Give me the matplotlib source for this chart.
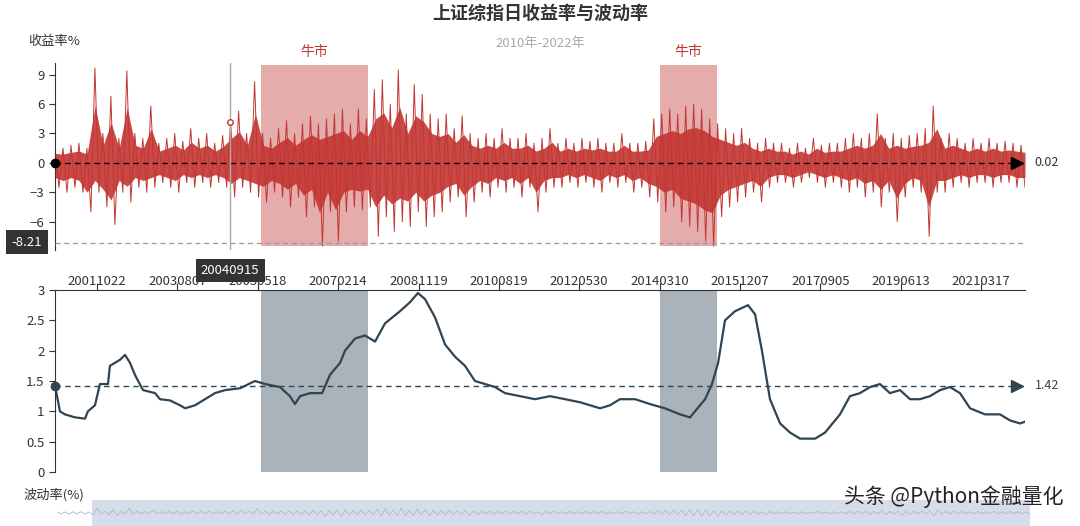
import numpy as np
import matplotlib
matplotlib.use("Agg")
import matplotlib.pyplot as plt
from matplotlib.patches import Rectangle

plt.rcParams['font.family'] = ['Noto Sans CJK SC', 'DejaVu Sans']

N_DAYS = 5070
tick_labels = ["20011022", "20030807", "20050518", "20070214", "20081119", "20100819",
               "20120530", "20140310", "20151207", "20170905", "20190613", "20210317"]
tick_days = [220 + 420 * k for k in range(len(tick_labels))]

bull_ranges = [(1077, 1636), (3162, 3460)]

ret_hi = [1.6,1.5,1.8,2.0,1.5,9.7,3.0,6.8,2.5,9.4,3.0,2.5,5.8,2.0,2.5,3.0,2.2,3.5,2.5,3.0,2.0,2.8,4.2,5.3,3.0,8.3,3.0,2.5,3.5,4.3,3.0,4.0,4.8,4.0,4.5,5.0,5.5,4.0,5.5,4.5,7.5,8.5,6.0,9.5,5.0,8.0,7.0,5.0,4.5,5.0,3.5,4.8,3.0,2.5,3.0,2.5,3.5,2.5,2.5,3.0,2.0,2.5,3.5,2.0,2.5,2.0,2.5,2.2,2.5,2.0,2.0,3.0,2.0,2.0,2.2,4.5,5.0,5.5,5.0,5.8,6.0,5.5,4.5,4.0,3.5,3.0,3.5,2.5,2.0,2.5,2.0,2.0,1.5,2.0,1.5,2.5,1.8,2.0,2.0,2.5,3.0,2.5,3.0,5.0,2.5,3.0,2.5,2.8,3.0,3.5,5.8,2.5,3.0,2.5,2.0,2.5,2.0,2.5,2.0,2.2,2.0,1.8]
ret_lo = [-2.5,-3.0,-2.5,-3.0,-5.0,-3.0,-4.5,-6.3,-3.0,-4.0,-2.5,-3.0,-2.5,-2.0,-2.5,-3.0,-2.0,-2.5,-2.0,-2.5,-2.0,-2.5,-3.5,-2.5,-3.0,-3.5,-4.0,-3.0,-3.5,-4.5,-3.5,-5.5,-4.5,-8.5,-5.0,-8.0,-5.0,-4.5,-4.8,-4.5,-7.5,-5.5,-7.0,-6.0,-6.5,-5.0,-6.5,-5.5,-5.0,-4.0,-3.5,-5.5,-4.0,-3.0,-3.5,-2.5,-3.0,-2.5,-3.5,-2.5,-5.0,-3.0,-2.5,-2.5,-2.0,-2.5,-2.0,-2.5,-3.0,-2.0,-2.5,-2.0,-3.0,-2.5,-3.5,-4.0,-5.0,-4.5,-6.0,-6.5,-7.0,-8.0,-8.5,-5.5,-4.5,-4.0,-3.5,-3.0,-4.0,-2.5,-2.0,-2.0,-2.5,-2.0,-1.5,-2.0,-2.5,-2.0,-2.5,-3.0,-2.5,-3.5,-3.0,-4.5,-3.0,-6.0,-3.5,-2.5,-3.0,-7.5,-3.0,-3.0,-2.5,-2.0,-2.5,-2.0,-2.0,-2.5,-2.0,-2.0,-2.5,-2.5]
ret_mean, ret_min = 0.02, -8.21

vol_day = [0,26,52,105,157,172,209,235,277,287,340,366,392,418,460,523,549,601,653,680,732,784,836,889,967,1045,1098,1176,1228,1254,1281,1333,1396,1437,1490,1516,1568,1620,1673,1725,1803,1856,1897,1934,1986,2039,2091,2143,2195,2248,2300,2352,2431,2509,2587,2666,2744,2849,2901,2953,3032,3110,3188,3267,3319,3345,3398,3434,3466,3502,3554,3622,3659,3695,3737,3790,3842,3894,3973,4025,4103,4155,4207,4260,4312,4364,4417,4469,4521,4573,4626,4678,4730,4783,4861,4939,4992,5044,5070]
vol_val = [1.42,1.0,0.95,0.9,0.88,1.0,1.1,1.45,1.45,1.75,1.85,1.93,1.8,1.6,1.35,1.3,1.2,1.18,1.1,1.05,1.1,1.2,1.3,1.35,1.38,1.5,1.45,1.4,1.25,1.12,1.25,1.3,1.3,1.6,1.8,2.0,2.2,2.25,2.15,2.45,2.65,2.8,2.95,2.85,2.55,2.1,1.9,1.75,1.5,1.45,1.4,1.3,1.25,1.2,1.25,1.2,1.15,1.05,1.1,1.2,1.2,1.12,1.05,0.95,0.9,1.0,1.2,1.45,1.8,2.5,2.65,2.75,2.6,2.0,1.2,0.8,0.65,0.55,0.55,0.65,0.95,1.25,1.3,1.4,1.45,1.3,1.35,1.2,1.2,1.25,1.35,1.4,1.3,1.05,0.95,0.95,0.85,0.8,0.83]
vol_mean = 1.42

RED = "#c23531"
NAVY = "#2f4554"

fig = plt.figure(figsize=(10.8, 5.26), dpi=100)
W, H = 1080, 526
def rect(l, t, r, b):
    return [l / W, 1 - b / H, (r - l) / W, (b - t) / H]

n = min(len(ret_hi), len(ret_lo))
pair_days = np.linspace(0, N_DAYS, n)
ret_vals = []
for a, b in zip(ret_hi[:n], ret_lo[:n]):
    ret_vals += [a, b]
ret_days = np.linspace(0, N_DAYS, len(ret_vals))

# top axes
ax1 = fig.add_axes(rect(55, 63, 1025, 250))
ax1.set_xlim(0, N_DAYS)
ax1.set_ylim(-8.9, 10.2)
for s0, s1 in bull_ranges:
    ax1.add_patch(Rectangle((s0, -8.5), s1 - s0, 18.5, color="#e3a3a3", alpha=0.9, lw=0, zorder=1))
    ax1.text((s0 + s1) / 2, 10.6, "牛市", color=RED, ha="center", va="bottom", fontsize=10)
ax1.fill_between(pair_days, np.array(ret_lo[:n]) * 0.6, np.array(ret_hi[:n]) * 0.6,
                 color=RED, lw=0, alpha=0.9, zorder=2)
ax1.plot(ret_days, ret_vals, color=RED, lw=0.7, zorder=2)
ax1.axhline(ret_mean, color="black", lw=1, ls=(0, (4, 3)), zorder=3)
ax1.axhline(ret_min, color="#999999", lw=0.9, ls=(0, (4, 3)), zorder=3)
ax1.plot([0], [ret_mean], "o", color="black", ms=6, zorder=4, clip_on=False)
ax1.plot([N_DAYS - 40], [ret_mean], ">", color="black", ms=8, zorder=4, clip_on=False)
ax1.text(N_DAYS + 50, ret_mean, "0.02", va="center", fontsize=9, color="#333")
ax1.axvline(915, color="#aaaaaa", lw=1, zorder=3)
ax1.plot([915], [4.2], "o", mfc="white", mec=RED, ms=4, zorder=4)
ax1.set_yticks([-6, -3, 0, 3, 6, 9])
ax1.set_xticks(tick_days)
ax1.set_xticklabels(tick_labels)
ax1.tick_params(axis="x", length=0, pad=18, labelsize=9.5, colors="#333")
ax1.tick_params(axis="y", labelsize=9.5, colors="#333", length=4)
for s in ["top", "right", "bottom"]:
    ax1.spines[s].set_visible(False)
ax1.spines["left"].set_color("#333")
fig.text(28 / W, 1 - 42 / H, "收益率%", fontsize=9.5, color="#333", va="center")
fig.text(27 / W, 1 - 242 / H, "-8.21", ha="center", va="center", color="white", fontsize=9.5,
         bbox=dict(boxstyle="square,pad=0.4", fc="#333333", ec="none"), zorder=6)
ax1.text(915, -11.0, "20040915", ha="center", va="center", color="white", fontsize=9.5,
         bbox=dict(boxstyle="square,pad=0.4", fc="#333333", ec="none"), clip_on=False, zorder=6)

# bottom axes
ax2 = fig.add_axes(rect(55, 290, 1025, 472))
ax2.set_xlim(0, N_DAYS)
ax2.set_ylim(0, 3)
for s0, s1 in bull_ranges:
    ax2.add_patch(Rectangle((s0, 0), s1 - s0, 3, color="#aab2ba", lw=0, zorder=1))
ax2.plot(vol_day, vol_val, color=NAVY, lw=1.6, zorder=2)
ax2.axhline(vol_mean, color=NAVY, lw=1, ls=(0, (4, 3)), zorder=3)
ax2.plot([0], [vol_mean], "o", color=NAVY, ms=6, zorder=4, clip_on=False)
ax2.plot([N_DAYS - 40], [vol_mean], ">", color=NAVY, ms=8, zorder=4, clip_on=False)
ax2.text(N_DAYS + 50, vol_mean, "1.42", va="center", fontsize=9, color=NAVY)
ax2.set_yticks([0, 0.5, 1, 1.5, 2, 2.5, 3])
ax2.set_yticklabels(["0", "0.5", "1", "1.5", "2", "2.5", "3"])
ax2.xaxis.tick_top()
ax2.set_xticks(tick_days)
ax2.set_xticklabels([])
ax2.tick_params(axis="x", direction="out", length=5, colors="#333")
ax2.tick_params(axis="y", labelsize=9.5, colors="#333", length=4)
ax2.spines["right"].set_visible(False)
ax2.spines["bottom"].set_visible(False)
ax2.spines["left"].set_color("#333")
ax2.spines["top"].set_color("#333")
fig.text(24 / W, 1 - 495 / H, "波动率(%)", fontsize=9.5, color="#333", va="center")

# data zoom slider
ax3 = fig.add_axes(rect(57, 500, 1030, 530))
ax3.set_xlim(0, N_DAYS)
ax3.set_ylim(-9, 10)
ax3.axvspan(180, N_DAYS, color="#d5dcea", lw=0)
ax3.plot(ret_days, np.array(ret_vals) * 0.3 + 2, color="#b0b8c8", lw=0.6)
ax3.axis("off")

fig.text(0.5, 0.975, "上证综指日收益率与波动率", ha="center", va="center", fontsize=13,
         fontweight="bold", color="#333")
fig.text(0.5, 0.918, "2010年-2022年", ha="center", va="center", fontsize=9.5, color="#aaaaaa")
fig.text(0.985, 0.055, "头条 @Python金融量化", ha="right", va="center", fontsize=15, color="#222")

fig.savefig("out.png", dpi=100)
